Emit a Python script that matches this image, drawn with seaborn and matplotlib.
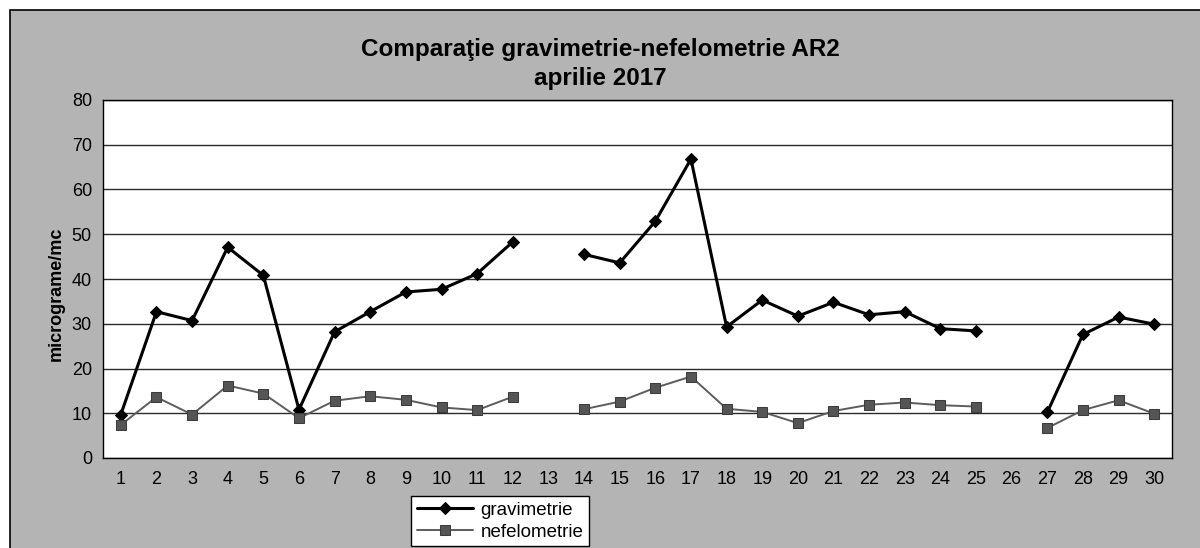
import numpy as np
import pandas as pd
import matplotlib
matplotlib.use("Agg")
import matplotlib.pyplot as plt
from matplotlib.patches import Rectangle
import seaborn as sns

nan = np.nan
days = list(range(1, 31))
gravimetrie = [9.7, 32.7, 30.7, 47.1, 40.8, 10.8, 28.2, 32.7, 37.1, 37.7, 41.2, 48.3, nan,
               45.5, 43.6, 52.9, 66.8, 29.3, 35.3, 31.7, 34.8, 32.0, 32.7, 28.9, 28.4, nan,
               10.2, 27.6, 31.5, 29.9]
nefelometrie = [7.4, 13.6, 9.7, 16.2, 14.4, 8.9, 12.8, 13.8, 13.0, 11.3, 10.7, 13.7, nan,
                10.9, 12.6, 15.7, 18.2, 11.0, 10.3, 7.8, 10.5, 11.9, 12.4, 11.8, 11.5, nan,
                6.7, 10.7, 12.9, 9.9]
y_ticks = [0, 10, 20, 30, 40, 50, 60, 70, 80]
title_text = "Comparaţie gravimetrie-nefelometrie AR2\naprilie 2017"
y_label = "micrograme/mc"

sns.set_theme(style="white")
plt.rcParams['font.family'] = ['Liberation Sans', 'DejaVu Sans']
plt.rcParams['text.color'] = 'black'
plt.rcParams['axes.labelcolor'] = 'black'
plt.rcParams['xtick.color'] = 'black'
plt.rcParams['ytick.color'] = 'black'

BG = '#b4b4b4'
fig = plt.figure(figsize=(12, 5.48), dpi=100)
fig.patch.set_facecolor('white')
fig.patches.append(Rectangle((10 / 1200, -0.05), 1.1, 1 - 10 / 548 + 0.05,
                             transform=fig.transFigure, facecolor=BG,
                             edgecolor='black', linewidth=1.2, zorder=-10))

ax = fig.add_axes([103 / 1200, 1 - 458 / 548, (1172 - 103) / 1200, (458 - 100) / 548])
ax.set_facecolor('white')

df = pd.DataFrame({'day': days, 'gravimetrie': gravimetrie, 'nefelometrie': nefelometrie})


def segments(series):
    seg_id = df[series].isna().cumsum()
    valid = df[series].notna()
    return [g for _, g in df[valid].groupby(seg_id[valid])]


styles = {
    'gravimetrie': dict(color='black', marker='D', markersize=6.5, linewidth=2.2,
                        markeredgecolor='black', markerfacecolor='black'),
    'nefelometrie': dict(color='#5c5c5c', marker='s', markersize=6.5, linewidth=1.4,
                         markeredgecolor='#3c3c3c', markerfacecolor='#555555'),
}

for name in ['gravimetrie', 'nefelometrie']:
    for i, seg in enumerate(segments(name)):
        sns.lineplot(data=seg, x='day', y=name, ax=ax, estimator=None,
                     label=name if i == 0 else None, zorder=3, **styles[name])

ax.set_xlim(0.5, 30.5)
ax.set_ylim(0, 80)
ax.set_yticks(y_ticks)
ax.set_yticklabels([str(v) for v in y_ticks], fontsize=13)
ax.set_xticks(days)
ax.set_xticklabels([str(d) for d in days], fontsize=13)
ax.set_xticks(np.arange(0.5, 31, 1), minor=True)
ax.tick_params(axis='x', which='major', length=0, pad=9)
ax.tick_params(axis='x', which='minor', length=5, width=1, color='black', direction='out')
ax.tick_params(axis='y', which='major', length=5, width=1, color='black', direction='out', pad=3)
ax.grid(axis='y', color='#2a2a2a', linewidth=1.0)
ax.set_axisbelow(True)
for s in ax.spines.values():
    s.set_color('black')
    s.set_linewidth(1.0)
    s.set_visible(True)

ax.set_xlabel('')
ax.set_ylabel(y_label, fontsize=13, fontweight='bold', color='black')
ax.yaxis.set_label_coords(-0.036, 0.46)

fig.text(0.5, 1 - 64 / 548, title_text, ha='center', va='center', fontsize=17.5,
         fontweight='bold', linespacing=1.3, color='black')

handles, labels = ax.get_legend_handles_labels()
if ax.get_legend() is not None:
    ax.get_legend().remove()
leg = fig.legend(handles, labels, loc='upper center', bbox_to_anchor=(500 / 1200, 1 - 496 / 548),
                 frameon=True, fancybox=False, framealpha=1.0, fontsize=13.5, handlelength=3.0,
                 borderpad=0.3, labelspacing=0.25, handletextpad=0.4, borderaxespad=0)
leg.get_frame().set_edgecolor('black')
leg.get_frame().set_facecolor('white')
leg.get_frame().set_linewidth(1.0)
for t in leg.get_texts():
    t.set_color('black')

fig.savefig('out.png', dpi=100, facecolor=fig.get_facecolor())
